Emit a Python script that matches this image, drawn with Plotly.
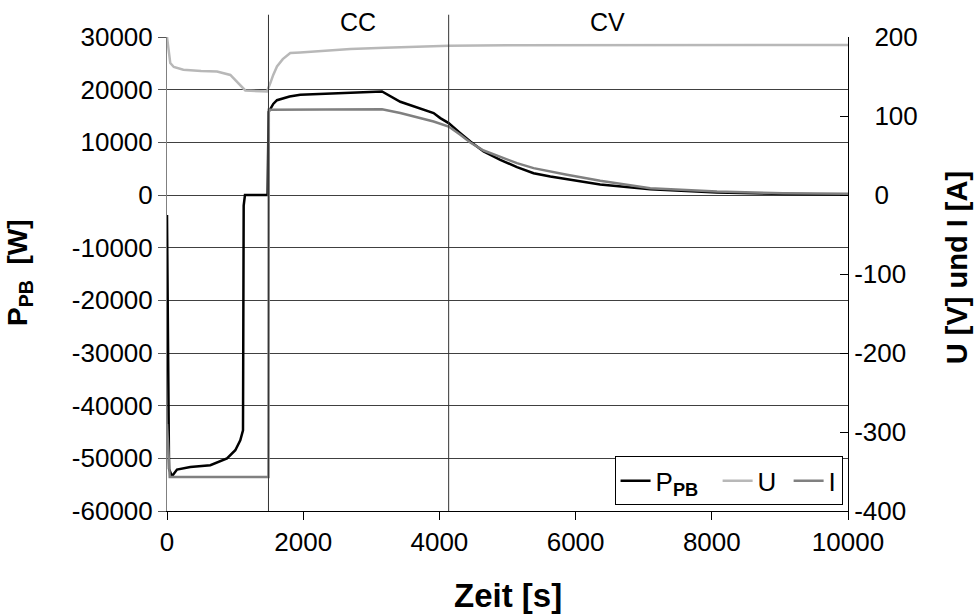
import plotly.graph_objects as go

# P_PB (W), left axis
t_p = [0, 30, 73, 147, 342, 636, 881, 1003, 1076, 1116, 1126, 1145, 1477, 1492, 1517, 1560,
       1615, 1712, 1800, 1957, 2692, 3157, 3426, 3671, 3915, 4013, 4136, 4307, 4454, 4649,
       4894, 5139, 5383, 5629, 5873, 6361, 7096, 8076, 9050, 10000]
p_pb = [-3800, -52000, -53400, -52130, -51630, -51300, -50030, -48460, -46560, -44660, -2000, 0, 0,
        15800, 16300, 17300, 18000, 18400, 18700, 19030, 19450, 19660, 17700, 16690, 15550, 14600,
        13650, 11750, 10150, 8250, 6670, 5290, 4140, 3500, 3000, 2000, 1100, 460, 210, 80]

# U (V), right axis
t_u = [0, 20, 48, 100, 240, 500, 734, 930, 1051, 1150, 1468, 1490, 1517, 1560, 1615, 1700,
       1810, 1957, 2203, 2692, 3200, 4136, 5000, 10000]
u_v = [200, 185, 167, 162, 158.6, 157, 156.4, 152, 141.7, 132.3, 131, 135, 141.7, 152, 162.7,
       172, 179.7, 180.5, 181.8, 184.8, 186.5, 189, 189.5, 190]

# I (A), right axis
t_i = [0, 40, 1490, 1495, 3157, 3426, 3915, 4013, 4136, 4307, 4454, 4649, 4894, 5139, 5383,
       5629, 5873, 6361, 7096, 8076, 9050, 10000]
i_a = [-290, -357, -357, 108, 108.5, 103.7, 93, 90, 86.7, 76.2, 66.4, 56.3, 47.9, 40.3, 34,
       29.5, 25.5, 18, 8.6, 4.4, 2.3, 1.5]

# tick values / labels
x_ticks = [0, 2000, 4000, 6000, 8000, 10000]
y_ticks = [30000, 20000, 10000, 0, -10000, -20000, -30000, -40000, -50000, -60000]
y2_ticks = [200, 100, 0, -100, -200, -300, -400]
y_ticktext = [str(v).replace("-", "-") for v in y_ticks]
y2_ticktext = [("-" + str(-v)) if v < 0 else ("\u2002\u00a0" + str(v)) for v in y2_ticks]

phase_x = [1490, 4136]
phase_labels = ["CC", "CV"]
phase_label_x = [2810, 6466]

FONT = "Liberation Sans, Arial, sans-serif"

fig = go.Figure()
fig.add_trace(go.Scatter(x=t_p, y=p_pb, mode="lines", name="P<sub><b>PB</b></sub>\u00a0\u00a0",
                         line=dict(color="black", width=2.5), legendrank=1, yaxis="y"))
fig.add_trace(go.Scatter(x=t_u, y=u_v, mode="lines", name="U\u00a0",
                         line=dict(color="#b8b8b8", width=2.5), legendrank=2, yaxis="y2"))
fig.add_trace(go.Scatter(x=t_i, y=i_a, mode="lines", name="I",
                         line=dict(color="#808080", width=2.5), legendrank=3, yaxis="y2"))

for xv in phase_x:
    fig.add_shape(type="line", xref="x", yref="paper", x0=xv, x1=xv, y0=0, y1=1.047,
                  line=dict(color="#333333", width=1))
for lab, xv in zip(phase_labels, phase_label_x):
    fig.add_annotation(x=xv, xref="x", y=1.032, yref="paper", text=lab, showarrow=False,
                       font=dict(size=25, color="black", family=FONT), yanchor="middle")

fig.update_layout(
    width=975, height=614,
    margin=dict(l=167, r=127, t=37, b=103),
    paper_bgcolor="white", plot_bgcolor="white",
    font=dict(family=FONT, size=26, color="black"),
    showlegend=True,
    legend=dict(orientation="h", x=0.992, xanchor="right", y=0.012, yanchor="bottom",
                bordercolor="black", borderwidth=1, bgcolor="white",
                font=dict(size=26), itemwidth=30, tracegroupgap=0),
    xaxis=dict(range=[0, 10000], tickvals=x_ticks, ticktext=[str(v) for v in x_ticks],
               ticks="outside", ticklen=8,
               tickcolor="black", showline=True, linecolor="black", linewidth=1,
               showgrid=False, zeroline=False),
    yaxis=dict(range=[-60000, 30000], tickvals=y_ticks, ticktext=y_ticktext,
               ticks="outside", ticklen=8,
               tickcolor="#555555", showline=True, linecolor="#808080", linewidth=1,
               showgrid=True, gridcolor="#404040", gridwidth=1, zeroline=False),
    yaxis2=dict(range=[-400, 200], tickvals=y2_ticks, ticktext=y2_ticktext,
                ticks="inside", ticklen=8,
                tickcolor="black", overlaying="y", side="right", showline=True,
                linecolor="black", linewidth=1, showgrid=False, zeroline=False),
)

fig.add_annotation(x=(508 - 167) / 680.8, xref="paper",
                   y=-(595 - 510.7) / 473.4, yref="paper", text="<b>Zeit [s]</b>",
                   showarrow=False, font=dict(size=33, family=FONT), yanchor="middle")
fig.add_annotation(x=-(167 - 20) / 680.8, xref="paper", y=(510.7 - 272) / 473.4, yref="paper",
                   text="<b>P<sub>PB</sub>  [W]</b>", textangle=-90, showarrow=False,
                   font=dict(size=28, family=FONT), xanchor="center", yanchor="middle")
fig.add_annotation(x=(957 - 167) / 680.8, xref="paper", y=(510.7 - 268) / 473.4, yref="paper",
                   text="<b>U [V] und I [A]</b>", textangle=-90, showarrow=False,
                   font=dict(size=29, family=FONT), xanchor="center", yanchor="middle")

fig.write_html("out.html")
